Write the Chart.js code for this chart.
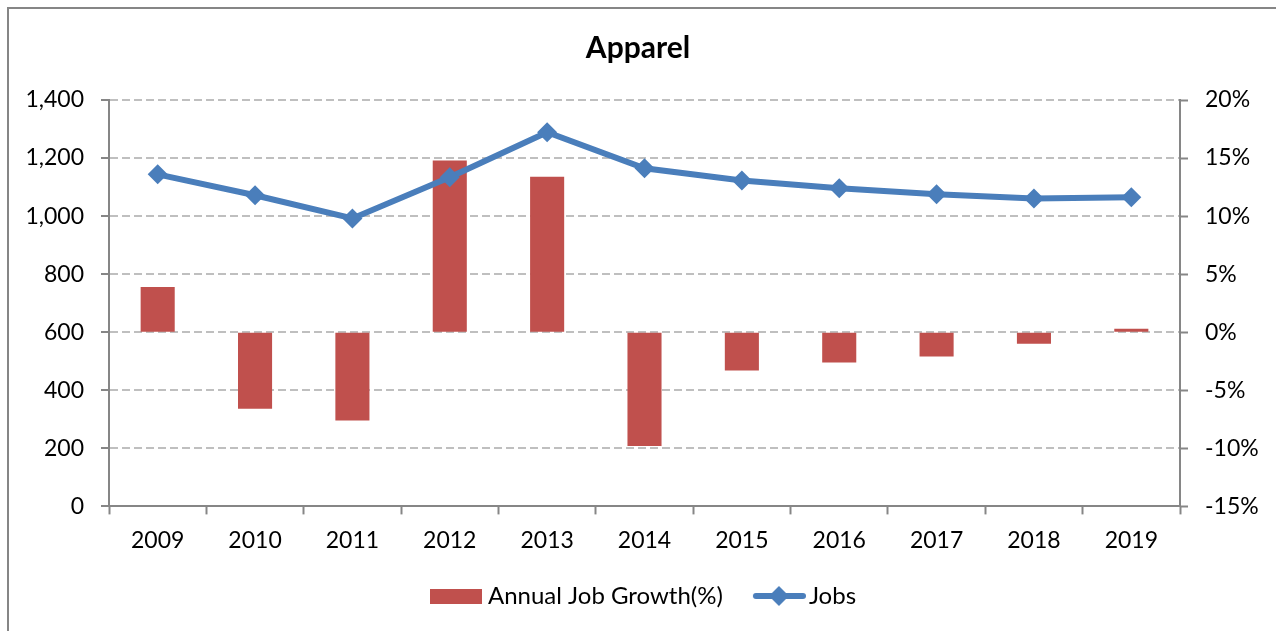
<!DOCTYPE html>
<html>
<head>
<meta charset="utf-8">
<script src="https://cdn.jsdelivr.net/npm/chart.js@4/dist/chart.umd.min.js"></script>
<style>
  html, body { margin: 0; padding: 0; background: #fff; }
  #wrap { position: relative; width: 1276px; height: 631px; }
</style>
</head>
<body>
<div id="wrap"><canvas id="apparel" width="1276" height="631"></canvas></div>
<script>
// chart values
const years = ['2009', '2010', '2011', '2012', '2013', '2014', '2015', '2016', '2017', '2018', '2019'];
const jobs = [1144, 1072, 992, 1134, 1289, 1165, 1123, 1096, 1075, 1061, 1065];
const growth = [3.9, -6.6, -7.6, 14.8, 13.4, -9.8, -3.3, -2.6, -2.1, -1.0, 0.3];

const barColor = '#C0504D';
const lineColor = '#4A7EBB';
const axisGrey = '#868686';

Chart.defaults.font.family = 'Lato, "Open Sans", sans-serif';
Chart.defaults.color = '#000';

// little pictures for the legend markers (padded on the left so the gap to the text is small)
function barSwatch() {
    const c = document.createElement('canvas');
    c.width = 68; c.height = 15;
    const g = c.getContext('2d');
    g.fillStyle = barColor;
    g.fillRect(16, 0, 52, 15);
    return c;
}
function lineSwatch() {
    const c = document.createElement('canvas');
    c.width = 74; c.height = 22;
    const g = c.getContext('2d');
    g.strokeStyle = lineColor;
    g.lineWidth = 6;
    g.lineCap = 'round';
    g.beginPath(); g.moveTo(24, 11); g.lineTo(71, 11); g.stroke();
    g.fillStyle = lineColor;
    g.beginPath(); g.moveTo(47, 1); g.lineTo(57, 11); g.lineTo(47, 21); g.lineTo(37, 11); g.closePath(); g.fill();
    return c;
}

// grey frame round the whole chart
const framePlugin = {
    id: 'frame',
    beforeDraw(chart) {
        const ctx = chart.ctx;
        ctx.save();
        ctx.strokeStyle = axisGrey;
        ctx.lineWidth = 2;
        ctx.strokeRect(8, 8, 1400, 800);
        ctx.restore();
    }
};

const config = {
    type: 'bar',
    data: {
        labels: years,
        datasets: [{
            type: 'bar',
            label: 'Annual Job Growth(%)',
            data: growth,
            yAxisID: 'y1',
            backgroundColor: barColor,
            borderWidth: 0,
            barPercentage: 0.35,
            categoryPercentage: 1,
            order: 2
        }, {
            type: 'line',
            label: 'Jobs',
            data: jobs,
            yAxisID: 'y',
            borderColor: lineColor,
            backgroundColor: lineColor,
            borderWidth: 6,
            pointStyle: 'rectRot',
            pointRadius: 10,
            pointHoverRadius: 10,
            pointBorderWidth: 0,
            tension: 0,
            order: 1
        }]
    },
    options: {
        responsive: false,
        animation: false,
        layout: { padding: { top: 8, bottom: 13, left: 0, right: 0 } },
        plugins: {
            title: {
                display: true,
                text: 'Apparel',
                font: { size: 30, weight: 'bold' },
                padding: { top: 22, bottom: 34 }
            },
            legend: {
                position: 'bottom',
                labels: {
                    usePointStyle: true,
                    pointStyleWidth: 56,
                    padding: 18,
                    font: { size: 24 },
                    generateLabels() {
                        return [
                            { text: 'Annual Job Growth(%)', pointStyle: barSwatch(), datasetIndex: 0, lineWidth: 0, fillStyle: barColor, strokeStyle: barColor },
                            { text: 'Jobs', pointStyle: lineSwatch(), datasetIndex: 1, lineWidth: 0, fillStyle: lineColor, strokeStyle: lineColor }
                        ];
                    }
                }
            },
            tooltip: { enabled: false }
        },
        scales: {
            x: {
                offset: true,
                grid: { offset: true, drawOnChartArea: false, drawTicks: true, tickLength: 8, tickColor: axisGrey, tickWidth: 2 },
                border: { color: axisGrey, width: 2 },
                ticks: { font: { size: 23 }, padding: 12, maxRotation: 0 }
            },
            y: {
                position: 'left',
                min: 0,
                max: 1400,
                ticks: {
                    stepSize: 200,
                    font: { size: 23 },
                    padding: 17,
                    callback: v => v.toLocaleString('en-US')
                },
                grid: { color: '#bfbfbf', lineWidth: 2, tickLength: 8, tickColor: axisGrey, tickWidth: 2 },
                border: { color: axisGrey, width: 2, dash: [8, 4] },
                afterFit(scale) { scale.width = 109; }
            },
            y1: {
                position: 'right',
                min: -15,
                max: 20,
                ticks: {
                    stepSize: 5,
                    font: { size: 23 },
                    padding: 17,
                    callback: v => v + '%'
                },
                grid: { drawOnChartArea: false, tickLength: 8, tickColor: axisGrey, tickWidth: 2 },
                border: { color: axisGrey, width: 2 },
                afterFit(scale) { scale.width = 96; }
            }
        }
    },
    plugins: [framePlugin]
};

const apparelCanvas = document.getElementById('apparel').getContext('2d');
let apparelChart = new Chart(apparelCanvas, config);
</script>
</body>
</html>
